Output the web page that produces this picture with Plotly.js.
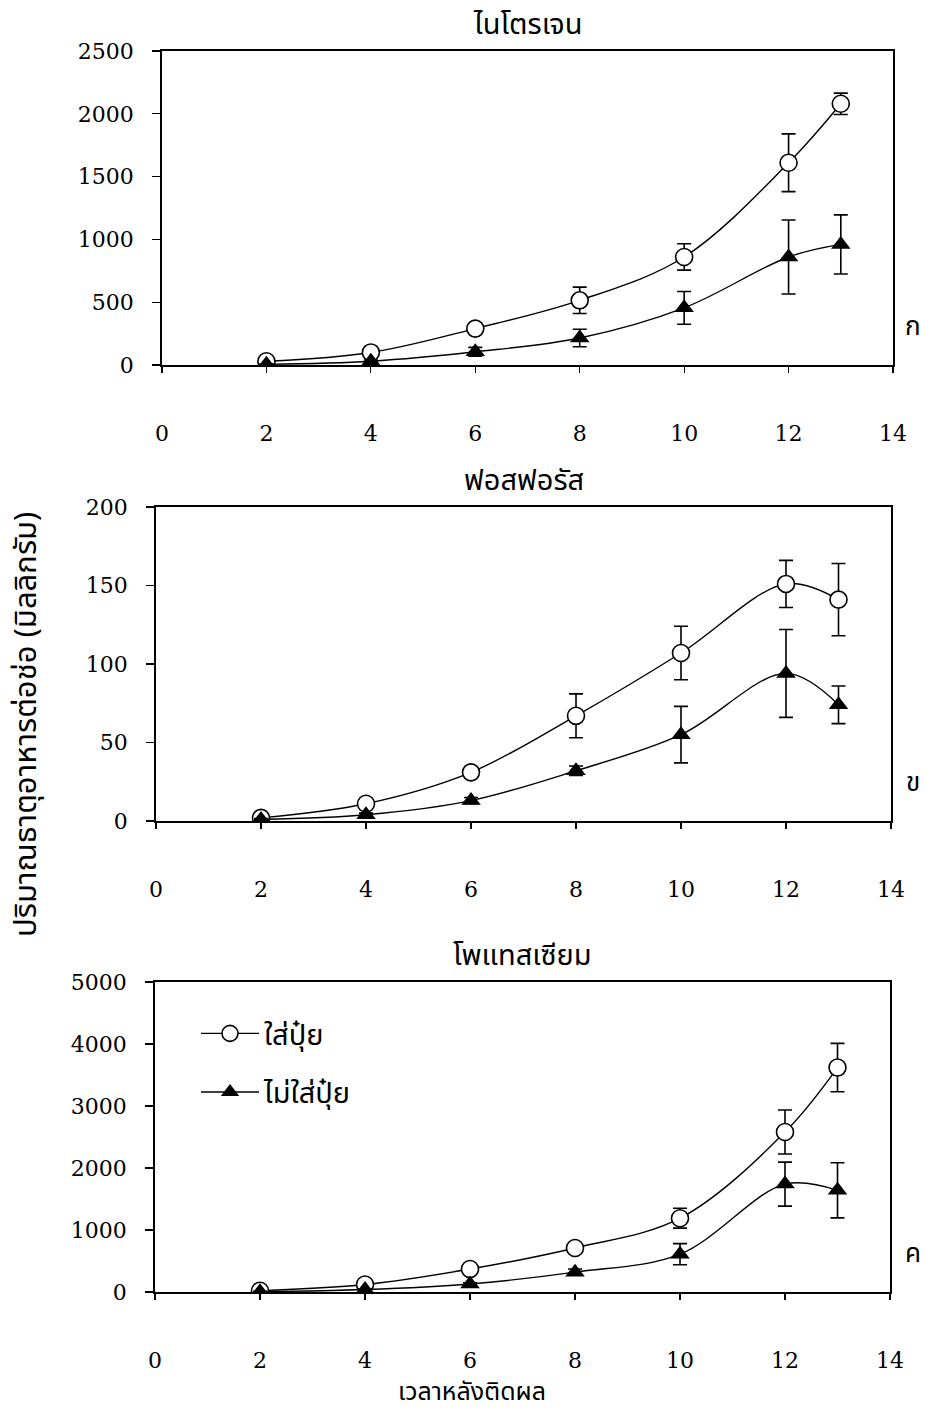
<!DOCTYPE html>
<html>
<head>
<meta charset="utf-8">
<script src="https://cdn.plot.ly/plotly-3.0.1.min.js"></script>
<style>html,body{margin:0;padding:0;background:#fff;}#chart{width:931px;height:1410px;}</style>
</head>
<body>
<div id="chart"></div>
<script>
// ---- data ----
const days = [2, 4, 6, 8, 10, 12, 13];
const seriesNames = ['ใส่ปุ๋ย', 'ไม่ใส่ปุ๋ย'];
const panelTitles = ['ไนโตรเจน', 'ฟอสฟอรัส', 'โพแทสเซียม'];
const panelLetters = ['ก', 'ข', 'ค'];
const yTitle = 'ปริมาณธาตุอาหารต่อช่อ (มิลลิกรัม)';
const xTitle = 'เวลาหลังติดผล';
const xTickVals = [0, 2, 4, 6, 8, 10, 12, 14];

const nFert = [30, 100, 290, 515, 860, 1610, 2080];
const nFertErr = [10, 15, 25, 105, 105, 230, 85];
const nNo = [5, 30, 105, 215, 455, 860, 960];
const nNoErr = [5, 10, 35, 70, 130, 295, 235];

const pFert = [2, 11, 31, 67, 107, 151, 141];
const pFertErr = [1, 2, 2, 14, 17, 15, 23];
const pNo = [1, 4, 13, 32, 55, 94, 74];
const pNoErr = [0.5, 1, 2, 3, 18, 28, 12];

const kFert = [20, 120, 370, 710, 1190, 2580, 3620];
const kFertErr = [10, 20, 30, 50, 160, 355, 390];
const kNo = [5, 40, 130, 320, 610, 1740, 1640];
const kNoErr = [5, 10, 20, 50, 170, 355, 445];

const yRanges = [[0, 2500], [0, 200], [0, 5000]];
const yDticks = [500, 50, 1000];

// ---- build ----
const numFont = {family: 'DejaVu Serif, Liberation Serif, serif', size: 22, color: '#000'};
const thaiFam = 'Noto Sans Thai, Noto Serif Thai, Loma, Garuda, Norasi, sans-serif';
const titleFont = {family: thaiFam, size: 29, color: '#000'};
const legendFont = {family: thaiFam, size: 29, color: '#000'};
const letterFont = {family: thaiFam, size: 26, color: '#000'};
const yTitleFont = {family: thaiFam, size: 31, color: '#000'};
const xTitleFont = {family: thaiFam, size: 25, color: '#000'};

const panels = [
  {fert: nFert, fertErr: nFertErr, no: nNo, noErr: nNoErr},
  {fert: pFert, fertErr: pFertErr, no: pNo, noErr: pNoErr},
  {fert: kFert, fertErr: kFertErr, no: kNo, noErr: kNoErr}
];

const traces = [];
panels.forEach((p, i) => {
  const xa = i === 0 ? 'x' : 'x' + (i + 1);
  const ya = i === 0 ? 'y' : 'y' + (i + 1);
  traces.push({
    x: days, y: p.fert, xaxis: xa, yaxis: ya, type: 'scatter', mode: 'lines+markers',
    name: seriesNames[0], legendgroup: 'a', showlegend: i === 2,
    line: {color: '#000', width: 1.4, shape: 'spline', smoothing: 1},
    marker: {symbol: 'circle', size: 17, color: '#fff', line: {color: '#000', width: 1.6}},
    error_y: {type: 'data', array: p.fertErr, visible: true, color: '#000', thickness: 1.6, width: 7}
  });
  traces.push({
    x: days, y: p.no, xaxis: xa, yaxis: ya, type: 'scatter', mode: 'lines+markers',
    name: seriesNames[1], legendgroup: 'b', showlegend: i === 2,
    line: {color: '#000', width: 1.4, shape: 'spline', smoothing: 1},
    marker: {symbol: 'triangle-up', size: 17, color: '#000', line: {color: '#000', width: 0}},
    error_y: {type: 'data', array: p.noErr, visible: true, color: '#000', thickness: 1.6, width: 7}
  });
});

const W = 931, H = 1410;
const boxes = [
  {l: 162, r: 893, t: 51, b: 365},
  {l: 156, r: 891, t: 507, b: 821},
  {l: 155, r: 890, t: 982, b: 1292}
];

const layout = {
  width: W, height: H,
  margin: {l: 0, r: 0, t: 0, b: 0},
  paper_bgcolor: '#fff', plot_bgcolor: '#fff',
  showlegend: true,
  legend: {
    x: 196 / W, y: 1 - 1008 / H, xanchor: 'left', yanchor: 'top',
    font: legendFont, itemwidth: 58, tracegroupgap: 18,
    bgcolor: 'rgba(0,0,0,0)', borderwidth: 0
  },
  annotations: [],
  font: numFont
};

boxes.forEach((b, i) => {
  const sx = i === 0 ? '' : (i + 1);
  const xdom = [b.l / W, b.r / W];
  const ydom = [1 - b.b / H, 1 - b.t / H];
  layout['xaxis' + sx] = {
    domain: xdom, range: [0, 14], anchor: 'y' + sx,
    tickvals: xTickVals, ticks: 'outside', ticklen: 6, tickwidth: 1.2, tickcolor: '#000',
    showline: true, linecolor: '#000', linewidth: 1.8, mirror: true,
    showgrid: false, zeroline: false, tickfont: numFont, ticklabelstandoff: 42,
    automargin: false, fixedrange: true
  };
  layout['yaxis' + sx] = {
    domain: ydom, range: yRanges[i], anchor: 'x' + sx,
    dtick: yDticks[i], ticks: 'outside', ticklen: 8, tickwidth: 1.2, tickcolor: '#000',
    showline: true, linecolor: '#000', linewidth: 1.8, mirror: true,
    showgrid: false, zeroline: false, tickfont: numFont, ticklabelstandoff: 14,
    automargin: false, fixedrange: true
  };
  layout.annotations.push({
    text: panelTitles[i], xref: 'paper', yref: 'paper',
    x: (b.l + b.r) / 2 / W, y: 1 - (b.t - 2) / H, xanchor: 'center', yanchor: 'bottom',
    showarrow: false, font: titleFont
  });
  layout.annotations.push({
    text: panelLetters[i], xref: 'paper', yref: 'paper',
    x: 913 / W, y: 1 - (b.b - 38) / H, xanchor: 'center', yanchor: 'middle',
    showarrow: false, font: letterFont
  });
});

layout.annotations.push({
  text: yTitle, xref: 'paper', yref: 'paper', x: 26 / W, y: 1 - 725 / H,
  xanchor: 'center', yanchor: 'middle', textangle: -90, showarrow: false, font: yTitleFont
});
layout.annotations.push({
  text: xTitle, xref: 'paper', yref: 'paper', x: 472 / W, y: 1 - 1392 / H,
  xanchor: 'center', yanchor: 'middle', showarrow: false, font: xTitleFont
});

Plotly.newPlot('chart', traces, layout, {staticPlot: true, displayModeBar: false});
</script>
</body>
</html>
